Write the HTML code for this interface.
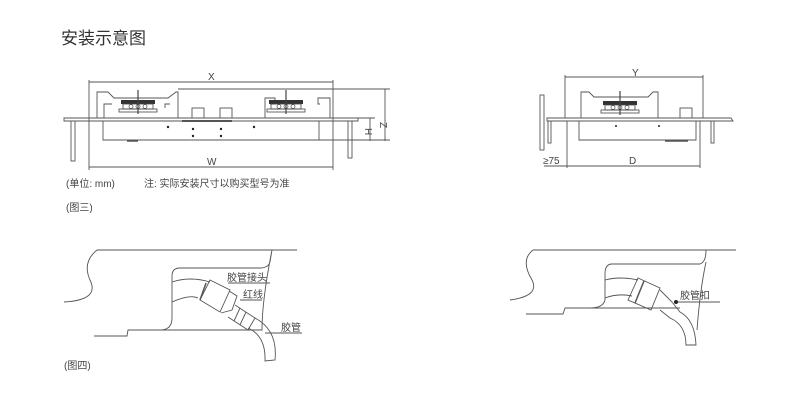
<!DOCTYPE html>
<html><head><meta charset="utf-8"><style>
html,body{margin:0;padding:0;background:#fff;}
svg{display:block;font-family:"Liberation Sans","Noto Sans CJK SC",sans-serif;}
</style></head><body>
<svg width="790" height="416" viewBox="0 0 790 416" xmlns="http://www.w3.org/2000/svg">
<defs>
<g id="burner">
<rect x="0" y="0" width="34" height="4" fill="#333"/>
<rect x="2" y="4" width="30" height="5" fill="none" stroke="#444" stroke-width="0.8"/>
<circle cx="10" cy="6.5" r="2" fill="none" stroke="#444" stroke-width="0.7"/>
<circle cx="17" cy="6.5" r="2" fill="none" stroke="#444" stroke-width="0.7"/>
<circle cx="24" cy="6.5" r="2" fill="none" stroke="#444" stroke-width="0.7"/>
<line x1="17" y1="-10" x2="17" y2="14" stroke="#444" stroke-width="1.2"/>
<rect x="-2" y="9" width="38" height="3" fill="none" stroke="#444" stroke-width="0.8"/>
</g>
</defs>
<text x="61" y="44" font-size="17" fill="#333">安装示意图</text>
<g stroke="#555" stroke-width="0.9" fill="none">
<line x1="89" y1="82" x2="333" y2="82"/>
<line x1="89" y1="80" x2="89" y2="170"/>
<line x1="333" y1="80" x2="333" y2="170"/>
<line x1="89" y1="167" x2="333" y2="167"/>
<path d="M97 118 L97 92 L108 92 L114 98 L168 98 L176 92 L178 92 L178 118"/>
<path d="M104 118 L104 104 L112 104 M170 104 L165 104 L165 108"/>
<line x1="178" y1="89" x2="390" y2="89"/>
<path d="M265 118 L265 98 L275 98 L275 104 L270 104 M320 104 L318 104 L318 98 L330 98 L330 118"/>
<rect x="192" y="108" width="12" height="10"/>
<rect x="220" y="108" width="12" height="10"/>
<path d="M64 118 L358 118 L358 121 L64 121 Z"/>
<path d="M103 121 L103 140 L319 140 L319 121"/>
<rect x="71" y="121" width="4" height="40"/>
<rect x="348" y="121" width="4" height="37"/>
<line x1="319" y1="140" x2="390" y2="140"/>
<line x1="385" y1="89" x2="385" y2="141"/>
<line x1="358" y1="118" x2="375" y2="118"/>
<line x1="370" y1="118" x2="370" y2="141"/>
<line x1="182" y1="121" x2="232" y2="121" stroke-width="2"/>
<line x1="127" y1="141" x2="138" y2="141" stroke-width="1.5"/>
<!-- right -->
<line x1="565" y1="77" x2="703" y2="77"/>
<line x1="565" y1="75" x2="565" y2="118"/>
<line x1="703" y1="75" x2="703" y2="118"/>
<path d="M581 118 L581 92 L589 92 L594 97 L648 97 L653 92 L658 92 L658 118"/>
<rect x="680" y="108" width="12" height="10"/>
<path d="M547 118 L731 118 L733 121 L547 121 Z"/>
<path d="M579 121 L579 140 L696 140 L696 121"/>
<rect x="540" y="95" width="4" height="55"/>
<rect x="548" y="121" width="3" height="22"/>
<rect x="711" y="121" width="3" height="22"/>
<line x1="567" y1="121" x2="567" y2="168"/>
<line x1="700" y1="121" x2="700" y2="168"/>
<line x1="544" y1="166" x2="700" y2="166"/>
<line x1="665" y1="141" x2="688" y2="141" stroke-width="1.5"/>
<!-- fig4 left -->
<path d="M97 250 L297 250 M272 250 L270 262 Q268 268 260 268 L180 268 Q172 268 172 276 L172 318 Q172 330 160 330 L128 330 L127 336 L94 336 M272 250 Q262 300 262 330 L160 330"/>
<path d="M97 250 Q82 262 90 280 Q100 300 64 302"/>
<path d="M172 282 Q190 276 210 282 M172 302 Q190 294 198 298"/>
<path d="M210 280 L230 290 L220 312 L200 300 Z"/>
<line x1="206" y1="283" x2="200" y2="300" stroke-width="1.5"/>
<path d="M229 291 L237 296 L232 310 L221 313"/>
<path d="M235 305 L255 318 L248 330 L228 317"/>
<path d="M240 308 L234 321 M246 312 L240 325"/>
<path d="M255 318 Q278 330 275 360 L265 361 Q266 336 248 328"/>
<line x1="228" y1="283" x2="270" y2="283"/>
<line x1="240" y1="300" x2="262" y2="300"/>
<line x1="265" y1="333" x2="302" y2="333"/>
<!-- fig4 right -->
<path d="M533 250 L736 250 M706 250 Q706 262 700 264 L612 264 Q605 264 605 274 L605 300 Q603 308 590 308 L565 308 L563 314 L526 314 M706 262 Q700 290 697 330 M590 308 L680 308"/>
<path d="M533 250 Q520 260 532 280 Q540 296 510 300"/>
<path d="M605 280 Q620 276 638 280 M605 298 Q618 293 632 296"/>
<path d="M638 278 L660 288 L651 310 L628 300 Z"/>
<line x1="644" y1="281" x2="635" y2="303" stroke-width="1.5"/>
<path d="M660 290 L672 302 L680 312 Q695 320 696 345 L686 345 Q686 325 670 318 L660 310"/>
<line x1="676" y1="302" x2="720" y2="302"/>
</g>
<use href="#burner" x="121" y="100"/>
<use href="#burner" x="269" y="100"/>
<use href="#burner" x="603" y="101"/>
<g fill="#222">
<circle cx="168" cy="127" r="1.2"/><circle cx="193" cy="129" r="1.2"/><circle cx="193" cy="136" r="1.2"/>
<circle cx="221" cy="129" r="1.2"/><circle cx="221" cy="136" r="1.2"/><circle cx="254" cy="127" r="1.2"/>
<circle cx="616" cy="126" r="1"/><circle cx="659" cy="126" r="1"/>
<circle cx="676" cy="302" r="2"/>
</g>
<g fill="#444" font-size="10">
<text x="208" y="80">X</text>
<text x="207" y="165">W</text>
<text x="380" y="122" transform="rotate(90 380 122)">Z</text>
<text x="365" y="128" transform="rotate(90 365 128)">H</text>
<text x="632" y="76">Y</text>
<text x="629" y="164">D</text>
<text x="543" y="164">≥75</text>
<text x="66" y="187">(单位: mm)</text>
<text x="144" y="187">注: 实际安装尺寸以购买型号为准</text>
<text x="66" y="211">(图三)</text>
<text x="227" y="281">胶管接头</text>
<text x="243" y="298">红线</text>
<text x="281" y="331">胶管</text>
<text x="680" y="299">胶管扣</text>
<text x="64" y="369">(图四)</text>
</g>
</svg>
</body></html>
